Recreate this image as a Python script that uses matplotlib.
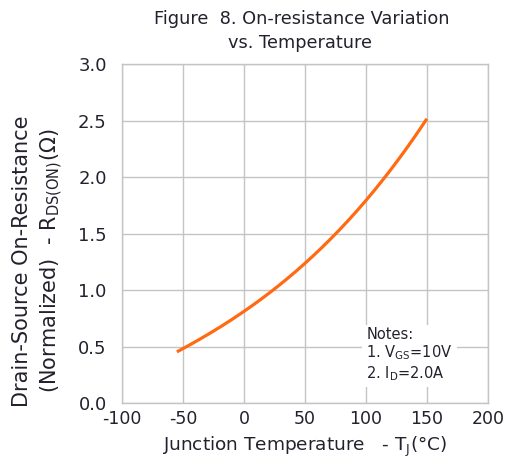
import numpy as np
import matplotlib.pyplot as plt

plt.rcParams['font.family'] = ['DejaVu Sans']
plt.rcParams['axes.unicode_minus'] = False

# data
temp = [-55, -25, 0, 25, 50, 75, 100, 125, 150]
rds_on = [0.46, 0.62, 0.81, 1.02, 1.24, 1.50, 1.78, 2.13, 2.52]
x_ticks = [-100, -50, 0, 50, 100, 150, 200]
y_ticks = [0.0, 0.5, 1.0, 1.5, 2.0, 2.5, 3.0]

txt_col = '#22222e'
grid_col = '#c4c4c4'

fig = plt.figure(figsize=(5.05, 4.61), dpi=100)
ax = fig.add_axes([0.2416, 0.1258, 0.7244, 0.7352])

# smooth the curve through the read points
xs = np.linspace(temp[0], temp[-1], 200)
coef = np.polyfit(temp, rds_on, 3)
ax.plot(xs, np.polyval(coef, xs), color='#ff6a13', lw=2.3, solid_capstyle='butt', zorder=3)

ax.set_xlim(-100, 200)
ax.set_ylim(0, 3)
ax.set_xticks(x_ticks)
ax.set_yticks(y_ticks)
ax.set_yticklabels(['%.1f' % v for v in y_ticks])
ax.grid(True, color=grid_col, lw=1.0)
ax.tick_params(length=0, labelsize=12.5, colors=txt_col)
ax.tick_params(axis='x', pad=5)
ax.tick_params(axis='y', labelsize=13, pad=11)
for s in ax.spines.values():
    s.set_color(grid_col)
    s.set_linewidth(1.0)

ax.set_xlabel('Junction Temperature   - T$_\\mathrm{J}$(°C)', fontsize=13.3, color=txt_col, labelpad=5)

fig.text(0.044, 0.434, 'Drain-Source On-Resistance', rotation=90, ha='center', va='center',
         fontsize=15, color=txt_col)
fig.text(0.102, 0.434, '(Normalized)  - R$_\\mathrm{DS(ON)}$($\\Omega$)', rotation=90,
         ha='center', va='center', fontsize=15, color=txt_col)

fig.text(0.598, 0.958, 'Figure  8. On-resistance Variation', ha='center', va='center',
         fontsize=12.8, color=txt_col)
fig.text(0.594, 0.906, 'vs. Temperature', ha='center', va='center',
         fontsize=12.8, color=txt_col)

ax.text(100.5, 0.67, 'Notes:\n1. V$_\\mathrm{GS}$=10V\n2. I$_\\mathrm{D}$=2.0A', fontsize=10.5,
        color=txt_col, va='top', ha='left', linespacing=1.1, zorder=4,
        bbox=dict(facecolor='white', edgecolor='none', pad=3))

fig.savefig('out.png', dpi=100)
